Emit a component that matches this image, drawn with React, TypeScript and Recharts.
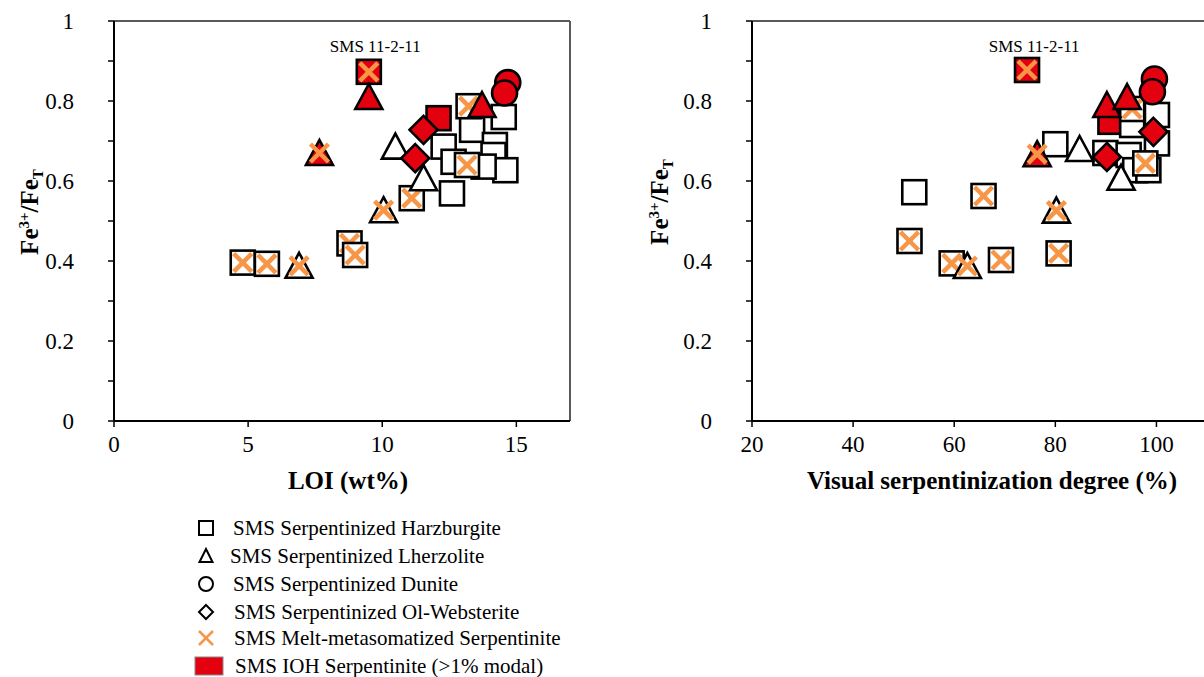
import React from 'react';
import { ScatterChart, Scatter, XAxis, YAxis, ReferenceLine, ReferenceDot } from 'recharts';

const FONT = "'Liberation Serif', 'DejaVu Serif', serif";
const RED = '#E3000F';
const ORANGE = '#F79646';
const FRAME = '#595959';

// tuples: [x value, Fe3+/FeT, IOH (1 = red fill), melt-metasomatized (1 = orange cross)]
type Row = [number, number, number, number];

const loiHarzburgite: Row[] = [
  [4.8, 0.396, 0, 1], [5.7, 0.393, 0, 1], [8.78, 0.444, 0, 1], [8.99, 0.415, 0, 1], [11.1, 0.557, 0, 1],
  [12.1, 0.757, 1, 0], [9.5, 0.873, 1, 1],
  [12.29, 0.686, 0, 0], [13.35, 0.728, 0, 0], [14.53, 0.76, 0, 0], [14.2, 0.69, 0, 0], [14.15, 0.665, 0, 0],
  [12.66, 0.648, 0, 0], [14.59, 0.627, 0, 0], [13.78, 0.636, 0, 0], [12.6, 0.569, 0, 0],
  [13.16, 0.64, 0, 1], [13.22, 0.787, 0, 1],
];
const loiLherzolite: Row[] = [
  [6.9, 0.388, 0, 1], [10.05, 0.527, 0, 1], [10.49, 0.686, 0, 0], [11.54, 0.607, 0, 0],
  [9.5, 0.81, 1, 0], [13.72, 0.79, 1, 0], [7.66, 0.67, 1, 1],
];
const loiDunite: Row[] = [[14.68, 0.846, 1, 0], [14.56, 0.82, 1, 0]];
const loiWebsterite: Row[] = [[11.54, 0.728, 1, 0], [11.23, 0.657, 1, 0]];

const serpHarzburgite: Row[] = [
  [51.15, 0.45, 0, 1], [59.5, 0.394, 0, 1], [65.8, 0.5625, 0, 1], [69.25, 0.4025, 0, 1], [80.65, 0.419, 0, 1],
  [90.9, 0.748, 1, 0], [74.4, 0.8775, 1, 1],
  [52.1, 0.572, 0, 0], [80.0, 0.692, 0, 0], [100.1, 0.765, 0, 0], [95.2, 0.74, 0, 0], [100.1, 0.694, 0, 0],
  [89.9, 0.67, 0, 0], [94.5, 0.665, 0, 0], [95.8, 0.627, 0, 0], [98.4, 0.627, 0, 0],
  [95.2, 0.78, 0, 1], [97.8, 0.644, 0, 1],
];
const serpLherzolite: Row[] = [
  [62.6, 0.3875, 0, 1], [80.2, 0.526, 0, 1], [84.8, 0.68, 0, 0], [93.0, 0.608, 0, 0],
  [90.2, 0.79, 1, 0], [94.2, 0.81, 1, 0], [76.4, 0.667, 1, 1],
];
const serpDunite: Row[] = [[99.6, 0.855, 1, 0], [99.2, 0.823, 1, 0]];
const serpWebsterite: Row[] = [[99.4, 0.723, 1, 0], [90.2, 0.66, 1, 0]];

const yTicks = [0, 0.1, 0.2, 0.3, 0.4, 0.5, 0.6, 0.7, 0.8, 0.9, 1];
const loiTicks = [0, 5, 10, 15];
const serpTicks = [20, 40, 60, 80, 100];
const loiDomain = [0, 17];
const serpDomain = [20, 110];
const sampleLabel = 'SMS 11-2-11';

const legendItems = [
  { kind: 'square', text: 'SMS Serpentinized Harzburgite' },
  { kind: 'triangle', text: 'SMS Serpentinized Lherzolite' },
  { kind: 'circle', text: 'SMS Serpentinized Dunite' },
  { kind: 'diamond', text: 'SMS Serpentinized Ol-Websterite' },
  { kind: 'cross', text: 'SMS Melt-metasomatized Serpentinite' },
  { kind: 'ioh', text: 'SMS IOH Serpentinite (>1% modal)' },
];

const toPts = (rows: Row[]) => rows.map(([x, y, ioh, melt]) => ({ x, y, ioh, melt }));
const serif = (extra: React.CSSProperties = {}): React.CSSProperties => ({ fontFamily: FONT, ...extra });

const makeShape = (kind: string) => (props: any) => {
  const { cx, cy, payload } = props;
  if (cx == null || cy == null) return <g />;
  const fill = payload.ioh ? RED : '#ffffff';
  const common = { fill, stroke: '#000', strokeWidth: 2.6, strokeLinejoin: 'miter' as const };
  let el: React.ReactNode = null;
  if (kind === 'square') el = <rect x={cx - 12} y={cy - 12} width={24} height={24} {...common} />;
  else if (kind === 'triangle')
    el = <polygon points={`${cx},${cy - 13} ${cx + 13.5},${cy + 12} ${cx - 13.5},${cy + 12}`} {...common} />;
  else if (kind === 'circle') el = <circle cx={cx} cy={cy} r={12.5} {...common} />;
  else el = <polygon points={`${cx},${cy - 14} ${cx + 14},${cy} ${cx},${cy + 14} ${cx - 14},${cy}`} {...common} />;
  const d = 9;
  return (
    <g>
      {el}
      {payload.melt ? (
        <g stroke={ORANGE} strokeWidth={4.5}>
          <line x1={cx - d} y1={cy - d} x2={cx + d} y2={cy + d} />
          <line x1={cx - d} y1={cy + d} x2={cx + d} y2={cy - d} />
        </g>
      ) : null}
    </g>
  );
};

const fmtY = (v: number) => (v === 0 ? '0' : v === 1 ? '1' : v.toFixed(1));

const YTick = (props: any) => {
  const { x, y, payload } = props;
  const v = payload.value;
  if (Math.round(v * 10) % 2 !== 0) return <g />;
  return (
    <text x={x - 34} y={y + 8} textAnchor="end" style={serif({ fontSize: 23 })} fill="#000">
      {fmtY(v)}
    </text>
  );
};

const XTick = (props: any) => {
  const { x, y, payload } = props;
  return (
    <text x={x} y={y + 25} textAnchor="middle" style={serif({ fontSize: 23 })} fill="#000">
      {payload.value}
    </text>
  );
};

const YTitle = ({ cx, cy }: { cx: number; cy: number }) => (
  <text
    x={cx}
    y={cy}
    transform={`rotate(-90, ${cx}, ${cy})`}
    textAnchor="middle"
    style={serif({ fontSize: 25, fontWeight: 'bold' })}
    fill="#000"
  >
    Fe
    <tspan dy={-9} style={{ fontSize: 15 }}>3+</tspan>
    <tspan dy={9}>/Fe</tspan>
    <tspan dy={5} style={{ fontSize: 15 }}>T</tspan>
  </text>
);

const Panel = (p: {
  left: number;
  marginLeft: number;
  marginRight: number;
  domain: number[];
  ticks: number[];
  series: Row[][];
  xTitle: string;
  xTitleCx: number;
  yTitleCx: number;
  yTitleCy: number;
  labelAt: [number, number];
}) => {
  const [h, l, d, w] = p.series;
  return (
    <div style={{ position: 'absolute', left: p.left, top: 0 }}>
      <ScatterChart
        width={600}
        height={500}
        margin={{ top: 21, right: p.marginRight, bottom: 49, left: p.marginLeft }}
      >
        <XAxis
          type="number"
          dataKey="x"
          domain={p.domain}
          ticks={p.ticks}
          allowDataOverflow
          tickSize={6}
          tickMargin={0}
          tick={<XTick />}
          axisLine={{ stroke: '#000', strokeWidth: 2 }}
          tickLine={{ stroke: '#000', strokeWidth: 1.5 }}
          height={30}
          label={{
            content: () => (
              <text x={p.xTitleCx} y={489} textAnchor="middle" style={serif({ fontSize: 25, fontWeight: 'bold' })} fill="#000">
                {p.xTitle}
              </text>
            ),
          }}
        />
        <YAxis
          type="number"
          dataKey="y"
          domain={[0, 1]}
          ticks={yTicks}
          allowDataOverflow
          width={60}
          tickSize={6}
          tickMargin={0}
          tick={<YTick />}
          axisLine={{ stroke: '#000', strokeWidth: 2 }}
          tickLine={{ stroke: '#000', strokeWidth: 1.5 }}
          label={{ content: () => <YTitle cx={p.yTitleCx} cy={p.yTitleCy} /> }}
        />
        <ReferenceLine y={1} stroke={FRAME} strokeWidth={2} />
        <ReferenceLine x={p.domain[1]} stroke={FRAME} strokeWidth={2} />
        <Scatter data={toPts(h)} shape={makeShape('square')} isAnimationActive={false} />
        <Scatter data={toPts(l)} shape={makeShape('triangle')} isAnimationActive={false} />
        <Scatter data={toPts(d)} shape={makeShape('circle')} isAnimationActive={false} />
        <Scatter data={toPts(w)} shape={makeShape('diamond')} isAnimationActive={false} />
        <ReferenceDot
          x={p.labelAt[0]}
          y={p.labelAt[1]}
          r={0}
          fill="none"
          stroke="none"
          label={{
            content: (lp: any) => {
              const vb = lp.viewBox || {};
              const cx = (vb.cx ?? vb.x ?? 0) + (vb.width ? vb.width / 2 : 0);
              const cy = (vb.cy ?? vb.y ?? 0) + (vb.height ? vb.height / 2 : 0);
              return (
                <text x={cx} y={cy + 6} textAnchor="middle" style={serif({ fontSize: 17 })} fill="#000">
                  {sampleLabel}
                </text>
              );
            },
          }}
        />
      </ScatterChart>
    </div>
  );
};

const LegendGlyph = ({ kind, cx, cy }: { kind: string; cx: number; cy: number }) => {
  const s = { fill: 'none', stroke: '#000', strokeWidth: 2 };
  if (kind === 'square') return <rect x={cx - 7} y={cy - 7} width={14} height={14} {...s} />;
  if (kind === 'triangle') return <polygon points={`${cx},${cy - 7} ${cx + 6.5},${cy + 6} ${cx - 6.5},${cy + 6}`} {...s} />;
  if (kind === 'circle') return <circle cx={cx} cy={cy} r={7} {...s} />;
  if (kind === 'diamond') return <polygon points={`${cx},${cy - 7} ${cx + 7},${cy} ${cx},${cy + 7} ${cx - 7},${cy}`} {...s} />;
  if (kind === 'cross')
    return (
      <g stroke={ORANGE} strokeWidth={2.5}>
        <line x1={cx - 7} y1={cy - 7} x2={cx + 7} y2={cy + 7} />
        <line x1={cx - 7} y1={cy + 7} x2={cx + 7} y2={cy - 7} />
      </g>
    );
  return <rect x={cx - 14} y={cy - 9} width={28} height={18} fill={RED} stroke="#888" strokeWidth={1} />;
};

const legendRowsY = [528, 556, 584, 612, 638, 666];
const legendTextX = [233, 230, 233, 234, 234, 235];

const Legend6 = () => (
  <svg style={{ position: 'absolute', left: 0, top: 0 }} width={700} height={677}>
    {legendItems.map((it, i) => (
      <g key={it.text}>
        <LegendGlyph kind={it.kind} cx={it.kind === 'ioh' ? 209 : 206} cy={legendRowsY[i]} />
        <text x={legendTextX[i]} y={legendRowsY[i] + 7} style={serif({ fontSize: 21 })} fill="#000">
          {it.text}
        </text>
      </g>
    ))}
  </svg>
);

export default function App() {
  return (
    <div
      style={{
        position: 'absolute',
        left: 0,
        top: 0,
        width: 1204,
        height: 677,
        overflow: 'hidden',
        background: '#fff',
        fontFamily: FONT,
      }}
    >
      <Legend6 />
      <Panel
        left={0}
        marginLeft={54}
        marginRight={30}
        domain={loiDomain}
        ticks={loiTicks}
        series={[loiHarzburgite, loiLherzolite, loiDunite, loiWebsterite]}
        xTitle="LOI (wt%)"
        xTitleCx={348}
        yTitleCx={38}
        yTitleCy={212}
        labelAt={[9.74, 0.9375]}
      />
      <Panel
        left={640}
        marginLeft={52}
        marginRight={33}
        domain={serpDomain}
        ticks={serpTicks}
        series={[serpHarzburgite, serpLherzolite, serpDunite, serpWebsterite]}
        xTitle="Visual serpentinization degree (%)"
        xTitleCx={352}
        yTitleCx={28}
        yTitleCy={202}
        labelAt={[75.8, 0.9375]}
      />
    </div>
  );
}
